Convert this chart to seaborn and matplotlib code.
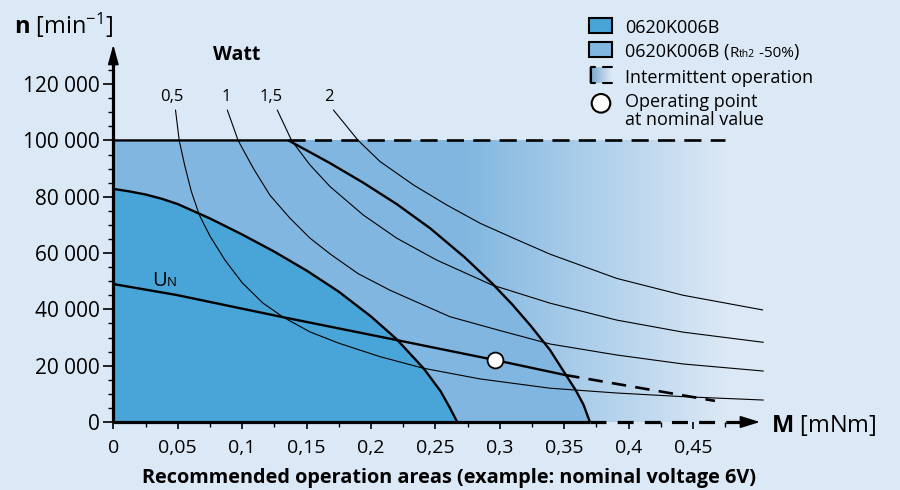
import numpy as np
import matplotlib.pyplot as plt
import matplotlib.colors as mcolors
import seaborn as sns
from matplotlib import font_manager
from matplotlib.offsetbox import TextArea, HPacker, AnnotationBbox
from matplotlib.patches import Rectangle, Circle

# Values: torque M in mNm, speed n in 1/min
m_ticks = [0, 0.05, 0.1, 0.15, 0.2, 0.25, 0.3, 0.35, 0.4, 0.45]
m_tick_labels = ["0", "0,05", "0,1", "0,15", "0,2", "0,25", "0,3", "0,35", "0,4", "0,45"]
n_ticks = [0, 20000, 40000, 60000, 80000, 100000, 120000]
n_tick_labels = ["0", "20 000", "40 000", "60 000", "80 000", "100 000", "120 000"]

# continuous operation 0620K006B
m_cont = [0, 0.0125, 0.025, 0.0375, 0.050, 0.075, 0.100, 0.125, 0.150, 0.175, 0.200, 0.220, 0.241,
          0.254, 0.261, 0.267]
n_cont = [82800, 81900, 80800, 79300, 77400, 72300, 66600, 60500, 53800, 46300, 37500, 29400, 19000,
          11000, 5300, 0]

# continuous operation 0620K006B (Rth2 -50%)
m_rth = [0, 0.136, 0.168, 0.194, 0.220, 0.246, 0.273, 0.294, 0.310, 0.324, 0.339, 0.351, 0.359, 0.365, 0.370]
n_rth = [100000, 100000, 92000, 85000, 77400, 68800, 58400, 49300, 41600, 34200, 25600, 17000, 11300, 6200, 0]

# intermittent operation area
n_max = 100000
m_intermittent_end = 0.475

# constant power curves (Watt)
watt_labels = ["0,5", "1", "1,5", "2"]
watt_label_m = [0.0453, 0.0873, 0.1222, 0.1677]
watt_label_n = 115500
w05_m = [0.0483, 0.0512, 0.0555, 0.0605, 0.0668, 0.0751, 0.0867, 0.1000, 0.1160, 0.1320, 0.1527, 0.1750,
         0.2071, 0.2407, 0.2847, 0.3391, 0.3908, 0.4425, 0.5047]
w05_n = [110800, 99900, 91000, 82000, 73500, 66000, 57500, 49500, 42300, 37200, 32000, 28000,
         23200, 19100, 15300, 12000, 10300, 9000, 7800]
w1_m = [0.0885, 0.0970, 0.1087, 0.1215, 0.1371, 0.1527, 0.1683, 0.1900, 0.2148, 0.2613, 0.3000, 0.3391,
        0.3908, 0.4425, 0.5047]
w1_n = [110800, 99900, 90100, 80600, 72400, 65300, 59700, 52700, 46800, 37400, 32500, 27700,
        23800, 20600, 18100]
w15_m = [0.1273, 0.1385, 0.1527, 0.1683, 0.1941, 0.2200, 0.2511, 0.2938, 0.3391, 0.3908, 0.4425, 0.5047]
w15_n = [110800, 99900, 91300, 83600, 73500, 65300, 57500, 48700, 42200, 36200, 31900, 28300]
w2_m = [0.1709, 0.1903, 0.2071, 0.2330, 0.2588, 0.2847, 0.3106, 0.3391, 0.3908, 0.4425, 0.5042]
w2_n = [110800, 99900, 92500, 84200, 77100, 70600, 65300, 59600, 51000, 45000, 39800]

# nominal voltage line U_N and operating point
un_m = [0, 0.0492, 0.1320, 0.2200, 0.2964, 0.3507]
un_n = [49000, 45100, 37200, 29100, 22000, 16700]
un_dash_m = [0.3507, 0.4671]
un_dash_n = [16700, 7500]
op_m = 0.2963
op_n = 22000

# colours
bg = "#dbe8f5"
dark = "#49a4d8"
light = "#80b6e0"

sns.set_theme(style="white", rc={"text.color": "black", "xtick.color": "black",
                                 "ytick.color": "black", "axes.labelcolor": "black"})
plt.rcParams["font.family"] = ["Open Sans", "DejaVu Sans"]
plt.rcParams["mathtext.fontset"] = "custom"
plt.rcParams["mathtext.rm"] = "Open Sans"
plt.rcParams["mathtext.bf"] = "Open Sans:bold"
plt.rcParams["mathtext.it"] = "Open Sans:italic"

font_names = {f.name for f in font_manager.fontManager.ttflist}
narrow = "Liberation Sans Narrow" if "Liberation Sans Narrow" in font_names else "Open Sans"

fig = plt.figure(figsize=(9, 4.9), dpi=100, facecolor=bg)
ax = fig.add_axes([113.3 / 900, 68 / 490, 656.9 / 900, 377.3 / 490])
ax.set_facecolor(bg)

# intermittent area: gradient fading out to the right
rgb_l = np.array(mcolors.to_rgb(light))
rgb_b = np.array(mcolors.to_rgb(bg))
fade = np.clip((np.linspace(0, m_intermittent_end, 400) - 0.27) / (m_intermittent_end - 0.27), 0, 1)
grad = rgb_l + (rgb_b - rgb_l) * fade[:, None]
ax.imshow(grad[None, :, :], extent=[0, m_intermittent_end, 0, n_max], aspect="auto",
          interpolation="bilinear", zorder=1)

ax.fill_between(m_rth, n_rth, color=light, lw=0, zorder=2)
ax.fill_between(m_cont, n_cont, color=dark, lw=0, zorder=3)

for m, n in [(w05_m, w05_n), (w1_m, w1_n), (w15_m, w15_n), (w2_m, w2_n)]:
    sns.lineplot(x=m, y=n, ax=ax, color="black", lw=0.8, sort=False, estimator=None, zorder=4)

sns.lineplot(x=m_cont, y=n_cont, ax=ax, color="black", lw=1.7, sort=False, estimator=None, zorder=5)
sns.lineplot(x=m_rth, y=n_rth, ax=ax, color="black", lw=1.7, sort=False, estimator=None, zorder=5)
ax.plot([m_rth[1], m_intermittent_end], [n_max, n_max], color="black", lw=1.9,
        ls=(0, (6.5, 3.5)), zorder=5)

sns.lineplot(x=un_m, y=un_n, ax=ax, color="black", lw=1.7, sort=False, estimator=None, zorder=5)
ax.plot(un_dash_m, un_dash_n, color="black", lw=1.9, ls=(0, (5.5, 3.5)), zorder=5)
sns.scatterplot(x=[op_m], y=[op_n], ax=ax, s=130, color="white", edgecolor="black",
                linewidth=1.3, zorder=7)

# axes drawn by hand (solid, dashed part and arrows)
ax.plot([0, m_rth[-1]], [0, 0], color="black", lw=2.3, solid_capstyle="butt", clip_on=False, zorder=6)
ax.plot([m_rth[-1], 0.489], [0, 0], color="black", lw=2.3, ls=(0, (5, 3.5)), clip_on=False, zorder=6)
ax.annotate("", xy=(0.502, 0), xytext=(0.488, 0), annotation_clip=False,
            arrowprops=dict(arrowstyle="-|>,head_length=0.8,head_width=0.25", color="black",
                            lw=1.2, shrinkA=0, shrinkB=0, mutation_scale=15))
ax.plot([0, 0], [0, 128000], color="black", lw=2.3, solid_capstyle="butt", clip_on=False, zorder=6)
ax.annotate("", xy=(0, 134000), xytext=(0, 127000), annotation_clip=False,
            arrowprops=dict(arrowstyle="-|>,head_length=0.8,head_width=0.22", color="black",
                            lw=1.2, shrinkA=0, shrinkB=0, mutation_scale=15))

# text inside the plot
ax.text(0.0958, 130400, "Watt", fontsize=14, fontweight="bold", ha="center", va="center")
for lab, m in zip(watt_labels, watt_label_m):
    ax.text(m, watt_label_n, lab, fontsize=12, ha="center", va="center")
un_box = HPacker(children=[TextArea("U", textprops=dict(size=14.5)),
                           TextArea("N", textprops=dict(size=9.5))],
                 align="baseline", pad=0, sep=0.5)
ax.add_artist(AnnotationBbox(un_box, (0.0298, 46700), xycoords="data", box_alignment=(0, 0),
                             frameon=False, pad=0, zorder=8))

ax.set_xticks(m_ticks, m_tick_labels)
ax.set_xticks(np.arange(0.025, 0.5, 0.05), minor=True)
ax.set_yticks(n_ticks, n_tick_labels)
ax.set_yticks(np.arange(5000, 130000, 5000), minor=True)
ax.tick_params(which="both", bottom=True, left=True)
ax.tick_params(axis="y", which="major", direction="out", length=7, width=1.2, pad=3, labelsize=15)
ax.tick_params(axis="y", which="minor", direction="out", length=3.5, width=1)
ax.tick_params(axis="x", which="major", direction="inout", length=10, width=1.2, pad=7, labelsize=14)
ax.tick_params(axis="x", which="minor", direction="out", length=3.5, width=1)
for lab in ax.get_xticklabels():
    lab.set_fontfamily(narrow)
for side in ax.spines.values():
    side.set_visible(False)
ax.set_xlim(0, 0.51)
ax.set_ylim(0, 134000)

# overlay in pixel coordinates for legend and axis titles
lg = fig.add_axes([0, 0, 1, 1], zorder=5)
lg.add_patch(Rectangle((589.3, 18.3), 22.4, 15, fc=dark, ec="black", lw=1.5))
lg.add_patch(Rectangle((589.3, 41.7), 22.4, 15, fc=light, ec="black", lw=1.5))
icon = rgb_l * 0.9 + (rgb_b - rgb_l * 0.9) * np.linspace(0, 1, 50)[:, None]
lg.imshow(icon[None, :, :], extent=[589.3, 611.7, 82.7, 66.7], aspect="auto", interpolation="bilinear")
lg.plot([595, 590.5, 590.5, 595], [66.7, 66.7, 82.7, 82.7], color="black", lw=1.5)
lg.plot([602.5, 611.7], [66.7, 66.7], color="black", lw=1.5)
lg.plot([602.5, 611.7], [82.7, 82.7], color="black", lw=1.5)
lg.add_patch(Circle((601, 103.3), 9.3, fc="white", ec="black", lw=1.5))

lg.text(625, 33.3, "0620K006B", fontsize=13, va="baseline")
rth_box = HPacker(children=[TextArea("0620K006B (", textprops=dict(size=13)),
                            TextArea("R", textprops=dict(size=11)),
                            TextArea("th2", textprops=dict(size=7.5)),
                            TextArea(" -50%", textprops=dict(size=11)),
                            TextArea(")", textprops=dict(size=13))],
                  align="baseline", pad=0, sep=0)
lg.add_artist(AnnotationBbox(rth_box, (625, 61), xycoords="data", box_alignment=(0, 0),
                             frameon=False, pad=0))
lg.text(625, 83, "Intermittent operation", fontsize=13, va="baseline")
lg.text(625, 107, "Operating point", fontsize=13, va="baseline")
lg.text(625, 125.3, "at nominal value", fontsize=13, va="baseline")

lg.text(14, 34, r"$\mathbf{n}$ [min$^{\mathregular{-1}}$]", fontsize=17, va="baseline")
lg.text(771, 432, r"$\mathbf{M}$ [mNm]", fontsize=17, va="baseline")
lg.text(449, 483, "Recommended operation areas (example: nominal voltage 6V)", fontsize=14.3,
        fontweight="bold", ha="center", va="baseline")

lg.set_xlim(0, 900)
lg.set_ylim(490, 0)
lg.set_axis_off()

plt.savefig("out.png", dpi=100, facecolor=bg)
plt.close()
